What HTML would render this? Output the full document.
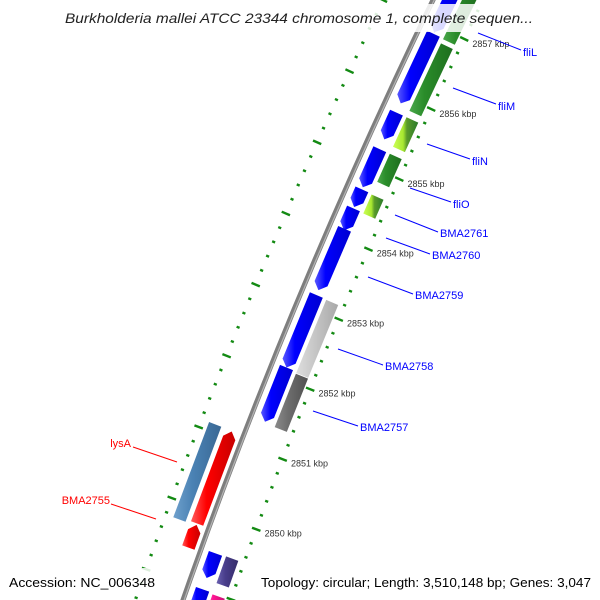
<!DOCTYPE html>
<html><head><meta charset="utf-8"><style>
html,body{margin:0;padding:0;background:#fff;width:600px;height:600px;overflow:hidden;}
svg{display:block;font-family:"Liberation Sans",sans-serif;}
</style></head><body>
<svg id="map" width="600" height="600" viewBox="0 0 600 600" xmlns="http://www.w3.org/2000/svg">
<defs>
<linearGradient id="gblue" x1="0" x2="1" y1="0" y2="0"><stop offset="0" stop-color="#5a5aff"/><stop offset="0.3" stop-color="#0000ff"/><stop offset="1" stop-color="#0000d0"/></linearGradient>
<linearGradient id="ggreen" x1="0" x2="1" y1="0" y2="0"><stop offset="0" stop-color="#4aa84a"/><stop offset="0.35" stop-color="#2a8c2a"/><stop offset="1" stop-color="#1e6e1e"/></linearGradient>
<linearGradient id="glime" x1="0" x2="1" y1="0" y2="0"><stop offset="0" stop-color="#ccff55"/><stop offset="0.4" stop-color="#a8e830"/><stop offset="0.55" stop-color="#5a9a2a"/><stop offset="1" stop-color="#2a7a2a"/></linearGradient>
<linearGradient id="glgray" x1="0" x2="1" y1="0" y2="0"><stop offset="0" stop-color="#dedede"/><stop offset="0.4" stop-color="#c8c8c8"/><stop offset="1" stop-color="#a8a8a8"/></linearGradient>
<linearGradient id="gdgray" x1="0" x2="1" y1="0" y2="0"><stop offset="0" stop-color="#8a8a8a"/><stop offset="0.4" stop-color="#6e6e6e"/><stop offset="1" stop-color="#505050"/></linearGradient>
<linearGradient id="gsteel" x1="0" x2="1" y1="0" y2="0"><stop offset="0" stop-color="#6fa0cc"/><stop offset="0.4" stop-color="#4a82b4"/><stop offset="1" stop-color="#3a6894"/></linearGradient>
<linearGradient id="gred" x1="0" x2="1" y1="0" y2="0"><stop offset="0" stop-color="#ff5a5a"/><stop offset="0.35" stop-color="#ff0000"/><stop offset="1" stop-color="#c80000"/></linearGradient>
<linearGradient id="gpurple" x1="0" x2="1" y1="0" y2="0"><stop offset="0" stop-color="#6a60b0"/><stop offset="0.4" stop-color="#483d8b"/><stop offset="1" stop-color="#352c6a"/></linearGradient>
<linearGradient id="gpink" x1="0" x2="1" y1="0" y2="0"><stop offset="0" stop-color="#ff60c0"/><stop offset="0.4" stop-color="#ff1493"/><stop offset="1" stop-color="#c81070"/></linearGradient>
</defs>
<g id="layer-ticks"></g>
<g id="layer-backbone"></g>
<g id="layer-features"></g>
<g id="layer-labels"></g>
<g id="layer-text">
<rect x="58" y="4" width="484" height="28" fill="#fff" opacity="0.85"/>
<text x="65" y="23" font-size="14" font-style="italic" fill="#222" textLength="468" lengthAdjust="spacingAndGlyphs">Burkholderia mallei ATCC 23344 chromosome 1, complete sequen...</text>
<rect x="4" y="568" width="150" height="26" fill="#fff" opacity="0.85"/>
<text x="9" y="587" font-size="13" fill="#000" textLength="146" lengthAdjust="spacingAndGlyphs">Accession: NC_006348</text>
<rect x="255" y="568" width="340" height="26" fill="#fff" opacity="0.85"/>
<text x="261" y="587" font-size="13" fill="#000" textLength="330" lengthAdjust="spacingAndGlyphs">Topology: circular; Length: 3,510,148 bp; Genes: 3,047</text>
</g>
</svg>
<script>
// ---- data ----
const tickKbp = [2850, 2851, 2852, 2853, 2854, 2855, 2856, 2857];
const tickLabels = ["2850 kbp","2851 kbp","2852 kbp","2853 kbp","2854 kbp","2855 kbp","2856 kbp","2857 kbp"];
const featStart = [2856.91, 2855.90, 2855.39, 2854.71, 2854.43, 2854.10, 2853.25, 2852.15, 2851.38, 2849.16, 2848.70,
                   2856.88, 2855.86, 2855.35, 2854.85, 2854.40, 2852.13, 2851.36, 2849.14, 2848.70,
                   2849.80, 2849.46, 2849.77];
const featEnd   = [2857.60, 2856.89, 2855.77, 2855.25, 2854.68, 2854.41, 2854.12, 2853.18, 2852.15, 2849.51, 2849.00,
                   2857.60, 2856.82, 2855.77, 2855.25, 2854.67, 2853.17, 2852.12, 2849.52, 2848.98,
                   2851.10, 2849.78, 2851.11];
const featTrack = ["f1","f1","f1","f1","f1","f1","f1","f1","f1","f1","f1",
                   "f2","f2","f2","f2","f2","f2","f2","f2","f2",
                   "r1","r1","r2"];
const featFill  = ["gblue","gblue","gblue","gblue","gblue","gblue","gblue","gblue","gblue","gblue","gblue",
                   "ggreen","ggreen","glime","ggreen","glime","glgray","gdgray","gpurple","gpink",
                   "gred","gred","gsteel"];
const featArrow = ["down","down","down","down","down","down","down","down","down","down","down",
                   "none","none","none","none","none","none","none","none","none",
                   "up","up","none"];
const labelNames = ["fliL","fliM","fliN","fliO","BMA2761","BMA2760","BMA2759","BMA2758","BMA2757","lysA","BMA2755"];
const labelColors = ["blue","blue","blue","blue","blue","blue","blue","blue","blue","red","red"];

// ---- geometry (layout) ----
const trackD = {f1:[8,22], f2:[26,39], r1:[-19,-6], r2:[-37,-24]};
function yOf(k){ return 19.5 + (2857 - k) * 70.6; }
function bx(y){ return 433 - 0.4833*y + 0.000111*y*y; }
function P(k, d){
  const y = yOf(k), s = -0.4833 + 0.000222*y, n = Math.sqrt(1+s*s);
  return [bx(y) + d/n, y - d*s/n];
}
const NS = "http://www.w3.org/2000/svg";
function mk(tag, parent){ const e = document.createElementNS(NS, tag); parent.appendChild(e); return e; }
const pts = a => a.map(p => p[0].toFixed(1)+","+p[1].toFixed(1)).join(" ");

// backbone
const bb = document.getElementById("layer-backbone");
let bpts = []; for (let y=-10; y<=610; y+=10) bpts.push([bx(y), y]);
const bl = mk("polyline", bb);
bl.setAttribute("points", pts(bpts)); bl.setAttribute("fill","none"); bl.setAttribute("stroke","#7e7e7e"); bl.setAttribute("stroke-width","5");


const bl2 = mk("polyline", bb);
bl2.setAttribute("points", pts(bpts.map(p=>[p[0]+1.2,p[1]]))); bl2.setAttribute("fill","none"); bl2.setAttribute("stroke","#b4b4b4"); bl2.setAttribute("stroke-width","1.2");



// ticks
const tg = document.getElementById("layer-ticks");
const kMin = 2848.2, kMax = 2857.6;
for (const side of [45, -45]) {
  for (let i = Math.ceil(kMin*5); i <= Math.floor(kMax*5); i++) {
    const k = i/5, major = (i % 5 === 0);
    const len = major ? 4.5 : 1.6;
    const a = P(k, side - len), b = P(k, side + len);
    const l = mk("line", tg);
    l.setAttribute("x1",a[0]); l.setAttribute("y1",a[1]); l.setAttribute("x2",b[0]); l.setAttribute("y2",b[1]);
    l.setAttribute("stroke", "#138a13"); l.setAttribute("stroke-width", "2.4");
    
    
  }
}
tickKbp.forEach((k, i) => {
  const p = P(k, 54);
  const t = mk("text", tg);
  t.setAttribute("x", p[0]); t.setAttribute("y", p[1]+4);
  t.setAttribute("font-size","9"); t.setAttribute("fill","#333");
  t.textContent = tickLabels[i];
  
  
});

// features
const fg = document.getElementById("layer-features");
const ah = 0.09;
featStart.forEach((k1, i) => {
  const k2 = featEnd[i], [d1, d2] = trackD[featTrack[i]], dm = (d1+d2)/2;
  let poly;
  if (featArrow[i] === "down") {
    poly = [P(k2,d1), P(k2,d2), P(k1+ah,d2), P(k1,dm), P(k1+ah,d1)];
  } else if (featArrow[i] === "up") {
    poly = [P(k1,d1), P(k1,d2), P(k2-ah,d2), P(k2,dm), P(k2-ah,d1)];
  } else {
    poly = [P(k2,d1), P(k2,d2), P(k1,d2), P(k1,d1)];
  }
  const e = mk("polygon", fg);
  e.setAttribute("points", pts(poly));
  e.setAttribute("fill", "url(#" + featFill[i] + ")");
  
  
});

// gene labels (layout positions)
const labelPos = [[523,56,478,33,521,50],[498,110,453,88,496,104],[472,165,427,144,470,159],[453,208,410,188,451,202],
  [440,237,395,215,438,232],[432,259,386,238,430,254],[415,299,368,277,413,294],[385,370,338,349,383,365],
  [360,431,313,411,358,426],[131,447,177,462,133,447],[110,504,156,519,111,504]];
const lg = document.getElementById("layer-labels");
labelNames.forEach((nm, i) => {
  const q = labelPos[i], red = labelColors[i] === "red";
  const l = mk("line", lg);
  l.setAttribute("x1",q[2]); l.setAttribute("y1",q[3]); l.setAttribute("x2",q[4]); l.setAttribute("y2",q[5]);
  l.setAttribute("stroke", red ? "#ff0000" : "#0000ff"); l.setAttribute("stroke-width","1");
  
  
  const t = mk("text", lg);
  t.setAttribute("x", q[0]); t.setAttribute("y", q[1]);
  t.setAttribute("font-size","11"); t.setAttribute("fill", red ? "#ff0000" : "#0000ff");
  if (red) t.setAttribute("text-anchor","end");
  t.textContent = nm;
  
  
});
</script>
</body></html>
